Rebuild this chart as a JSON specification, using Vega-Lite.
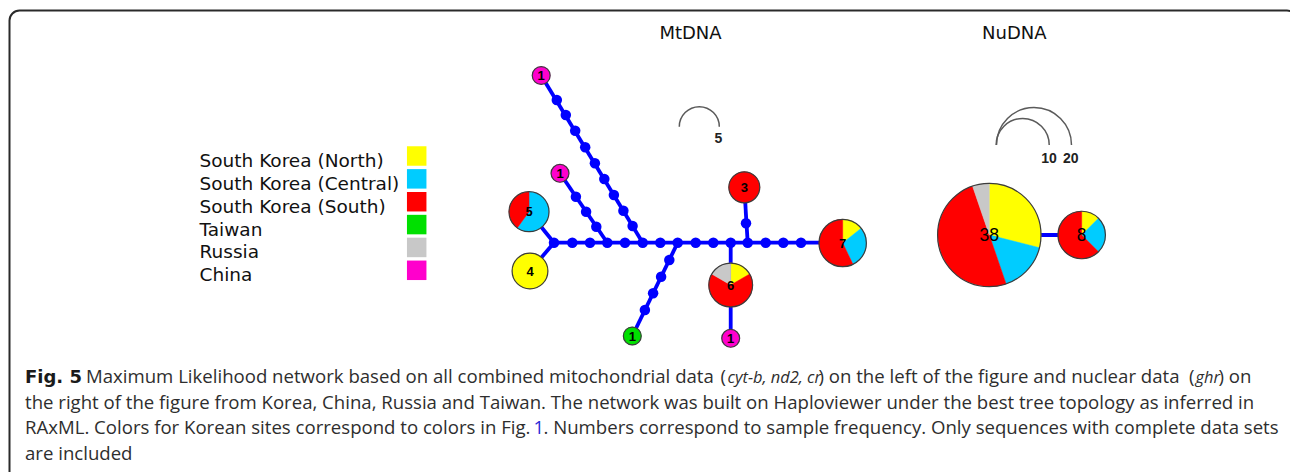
{
  "$schema": "https://vega.github.io/schema/vega-lite/v6.json",
  "width": 1290,
  "height": 472,
  "autosize": {"type": "none"},
  "padding": 0,
  "background": "white",
  "config": {"view": {"stroke": null}, "axis": {"disable": true}, "legend": {"disable": true}},
  "datasets": {
    "nodes": [
      {"net": "Mt", "node": "mC1", "x": 541.2, "y": 75.5, "n": 1},
      {"net": "Mt", "node": "mC2", "x": 560, "y": 173.3, "n": 1},
      {"net": "Mt", "node": "m5", "x": 529, "y": 211.7, "n": 5},
      {"net": "Mt", "node": "m4", "x": 530, "y": 271, "n": 4},
      {"net": "Mt", "node": "m3", "x": 744.3, "y": 187.3, "n": 3},
      {"net": "Mt", "node": "m7", "x": 842.7, "y": 243, "n": 7},
      {"net": "Mt", "node": "m6", "x": 730.7, "y": 285, "n": 6},
      {"net": "Mt", "node": "mC3", "x": 730.7, "y": 338.3, "n": 1},
      {"net": "Mt", "node": "mT", "x": 632.3, "y": 336, "n": 1},
      {"net": "Nu", "node": "n38", "x": 989.3, "y": 235, "n": 38},
      {"net": "Nu", "node": "n8", "x": 1081.7, "y": 235, "n": 8}
    ],
    "slices": [
      {"node": "mC1", "region": "China", "count": 1},
      {"node": "mC2", "region": "China", "count": 1},
      {"node": "m5", "region": "South Korea (Central)", "count": 3},
      {"node": "m5", "region": "South Korea (South)", "count": 2},
      {"node": "m4", "region": "South Korea (North)", "count": 4},
      {"node": "m3", "region": "South Korea (South)", "count": 3},
      {"node": "m7", "region": "South Korea (North)", "count": 1},
      {"node": "m7", "region": "South Korea (Central)", "count": 2},
      {"node": "m7", "region": "South Korea (South)", "count": 4},
      {"node": "m6", "region": "South Korea (North)", "count": 1},
      {"node": "m6", "region": "South Korea (South)", "count": 4},
      {"node": "m6", "region": "Russia", "count": 1},
      {"node": "mC3", "region": "China", "count": 1},
      {"node": "mT", "region": "Taiwan", "count": 1},
      {"node": "n38", "region": "South Korea (North)", "count": 11},
      {"node": "n38", "region": "South Korea (Central)", "count": 6},
      {"node": "n38", "region": "South Korea (South)", "count": 19},
      {"node": "n38", "region": "Russia", "count": 2},
      {"node": "n8", "region": "South Korea (North)", "count": 1},
      {"node": "n8", "region": "South Korea (Central)", "count": 2},
      {"node": "n8", "region": "South Korea (South)", "count": 5}
    ],
    "edges": [
      {"x": 554, "y": 242.7, "x2": 529, "y2": 211.7},
      {"x": 554, "y": 242.7, "x2": 530, "y2": 271},
      {"x": 554, "y": 242.7, "x2": 842.7, "y2": 242.7},
      {"x": 541.2, "y": 75.5, "x2": 642.7, "y2": 242.7},
      {"x": 560, "y": 173.3, "x2": 607.3, "y2": 242.7},
      {"x": 677.7, "y": 242.7, "x2": 632.3, "y2": 336},
      {"x": 730.7, "y": 242.7, "x2": 730.7, "y2": 338.3},
      {"x": 747.7, "y": 242.7, "x2": 744.3, "y2": 187.3},
      {"x": 989.3, "y": 235, "x2": 1081.7, "y2": 235}
    ],
    "dots": [
      {"x": 554, "y": 242.7}, {"x": 572.3, "y": 242.7}, {"x": 590, "y": 242.7}, {"x": 607.3, "y": 242.7},
      {"x": 625, "y": 242.7}, {"x": 642.7, "y": 242.7}, {"x": 660.3, "y": 242.7}, {"x": 677.7, "y": 242.7},
      {"x": 695.7, "y": 242.7}, {"x": 713.3, "y": 242.7}, {"x": 730.7, "y": 242.7}, {"x": 747.7, "y": 242.7},
      {"x": 765.7, "y": 242.7}, {"x": 783.3, "y": 242.7}, {"x": 801, "y": 242.7},
      {"x": 556.8, "y": 100}, {"x": 565.8, "y": 115}, {"x": 575.2, "y": 130.7}, {"x": 585.2, "y": 147.3},
      {"x": 594.9, "y": 163.3}, {"x": 604.3, "y": 179}, {"x": 613.9, "y": 195}, {"x": 623.4, "y": 210.7},
      {"x": 632.6, "y": 226},
      {"x": 575.9, "y": 196.7}, {"x": 586.1, "y": 211.7}, {"x": 596.3, "y": 226.7},
      {"x": 669.3, "y": 260}, {"x": 661.1, "y": 276.7}, {"x": 653.1, "y": 293.3}, {"x": 644.9, "y": 310},
      {"x": 746, "y": 223.3}
    ],
    "scaleref": [
      {"net": "Mt", "n": 5, "x": 699.3, "y": 126.7},
      {"net": "Nu", "n": 10, "x": 1022.7, "y": 145},
      {"net": "Nu", "n": 20, "x": 1034, "y": 145}
    ],
    "scalelab": [
      {"t": "5", "x": 718.5, "y": 139},
      {"t": "10", "x": 1049, "y": 159},
      {"t": "20", "x": 1070.7, "y": 159}
    ],
    "titles": [
      {"t": "MtDNA", "x": 690.5, "y": 34},
      {"t": "NuDNA", "x": 1014.3, "y": 34}
    ],
    "legend": [
      {"region": "South Korea (North)"},
      {"region": "South Korea (Central)"},
      {"region": "South Korea (South)"},
      {"region": "Taiwan"},
      {"region": "Russia"},
      {"region": "China"}
    ],
    "caption": [
      {"t": "Fig. 5", "x": 25, "y": 382.7, "kind": "bold"},
      {"t": "Maximum Likelihood network based on all combined mitochondrial data", "x": 86, "y": 382.7, "kind": "plain"},
      {"t": "(", "x": 720.5, "y": 382.7, "kind": "plain"},
      {"t": "cyt-b, nd2, cr", "x": 727.5, "y": 382.7, "kind": "italic"},
      {"t": ") on the left of the figure and nuclear data", "x": 818.5, "y": 382.7, "kind": "plain"},
      {"t": "(", "x": 1189, "y": 382.7, "kind": "plain"},
      {"t": "ghr", "x": 1195.5, "y": 382.7, "kind": "italic"},
      {"t": ") on", "x": 1218.5, "y": 382.7, "kind": "plain"},
      {"t": "the right of the figure from Korea, China, Russia and Taiwan. The network was built on Haploviewer under the best tree topology as inferred in", "x": 25, "y": 408.5, "kind": "plain"},
      {"t": "RAxML. Colors for Korean sites correspond to colors in Fig.", "x": 25, "y": 434.3, "kind": "plain"},
      {"t": "1", "x": 533.5, "y": 434.3, "kind": "link"},
      {"t": ". Numbers correspond to sample frequency. Only sequences with complete data sets", "x": 543.5, "y": 434.3, "kind": "plain"},
      {"t": "are included", "x": 25, "y": 460, "kind": "plain"}
    ]
  },
  "resolve": {"scale": {"radius": "independent", "size": "independent", "y": "independent"}},
  "layer": [
    {
      "data": {"values": [{"frame": "figure"}]},
      "mark": {"type": "rect", "filled": false, "stroke": "#2a2a2a", "strokeWidth": 2, "cornerRadius": 10},
      "encoding": {
        "x": {"datum": 9.5, "type": "quantitative", "scale": {"domain": [0, 1290], "nice": false, "zero": false}},
        "x2": {"datum": 1297},
        "y": {"datum": 10.5, "type": "quantitative", "scale": {"domain": [0, 472], "reverse": true, "nice": false, "zero": false}},
        "y2": {"datum": 560}
      }
    },
    {
      "data": {"name": "edges"},
      "mark": {"type": "rule", "color": "#0000ff", "strokeWidth": 3.8},
      "encoding": {
        "x": {"field": "x", "type": "quantitative", "scale": {"domain": [0, 1290], "nice": false, "zero": false}},
        "x2": {"field": "x2"},
        "y": {"field": "y", "type": "quantitative", "scale": {"domain": [0, 472], "reverse": true, "nice": false, "zero": false}},
        "y2": {"field": "y2"}
      }
    },
    {
      "data": {"name": "dots"},
      "mark": {"type": "point", "shape": "circle", "filled": true, "color": "#0000ff", "opacity": 1, "size": 110},
      "encoding": {
        "x": {"field": "x", "type": "quantitative", "scale": {"domain": [0, 1290], "nice": false, "zero": false}},
        "y": {"field": "y", "type": "quantitative", "scale": {"domain": [0, 472], "reverse": true, "nice": false, "zero": false}}
      }
    },
    {
      "data": {"name": "slices"},
      "transform": [
        {"lookup": "node", "from": {"data": {"name": "nodes"}, "key": "node", "fields": ["x", "y", "n", "net"]}},
        {"filter": "datum.net === 'Mt'"},
        {"joinaggregate": [{"op": "sum", "field": "count", "as": "tot"}], "groupby": ["node"]},
        {"window": [{"op": "sum", "field": "count", "as": "cum"}], "groupby": ["node"], "frame": [null, 0]},
        {"calculate": "(datum.cum - datum.count) / datum.tot", "as": "f0"},
        {"calculate": "datum.cum / datum.tot", "as": "f1"}
      ],
      "mark": {"type": "arc", "strokeWidth": 0.5},
      "encoding": {
        "x": {"field": "x", "type": "quantitative", "scale": {"domain": [0, 1290], "nice": false, "zero": false}},
        "y": {"field": "y", "type": "quantitative", "scale": {"domain": [0, 472], "reverse": true, "nice": false, "zero": false}},
        "theta": {"field": "f0", "type": "quantitative", "stack": null, "scale": {"domain": [0, 1], "range": [0, 6.283185307], "zero": false, "nice": false}},
        "theta2": {"field": "f1"},
        "radius": {"field": "n", "type": "quantitative", "scale": {"type": "sqrt", "domain": [0, 5], "range": [0, 20], "zero": true}},
        "color": {"field": "region", "type": "nominal", "scale": {"domain": ["South Korea (North)", "South Korea (Central)", "South Korea (South)", "Taiwan", "Russia", "China"], "range": ["#ffff00", "#00ccff", "#ff0000", "#00e000", "#c8c8c8", "#ff00cc"]}},
        "stroke": {"field": "region", "type": "nominal", "scale": {"domain": ["South Korea (North)", "South Korea (Central)", "South Korea (South)", "Taiwan", "Russia", "China"], "range": ["#ffff00", "#00ccff", "#ff0000", "#00e000", "#c8c8c8", "#ff00cc"]}}
      }
    },
    {
      "data": {"name": "slices"},
      "transform": [
        {"lookup": "node", "from": {"data": {"name": "nodes"}, "key": "node", "fields": ["x", "y", "n", "net"]}},
        {"filter": "datum.net === 'Nu'"},
        {"joinaggregate": [{"op": "sum", "field": "count", "as": "tot"}], "groupby": ["node"]},
        {"window": [{"op": "sum", "field": "count", "as": "cum"}], "groupby": ["node"], "frame": [null, 0]},
        {"calculate": "(datum.cum - datum.count) / datum.tot", "as": "f0"},
        {"calculate": "datum.cum / datum.tot", "as": "f1"}
      ],
      "mark": {"type": "arc", "strokeWidth": 0.5},
      "encoding": {
        "x": {"field": "x", "type": "quantitative", "scale": {"domain": [0, 1290], "nice": false, "zero": false}},
        "y": {"field": "y", "type": "quantitative", "scale": {"domain": [0, 472], "reverse": true, "nice": false, "zero": false}},
        "theta": {"field": "f0", "type": "quantitative", "stack": null, "scale": {"domain": [0, 1], "range": [0, 6.283185307], "zero": false, "nice": false}},
        "theta2": {"field": "f1"},
        "radius": {"field": "n", "type": "quantitative", "scale": {"type": "sqrt", "domain": [0, 20], "range": [0, 37.5], "zero": true}},
        "color": {"field": "region", "type": "nominal", "scale": {"domain": ["South Korea (North)", "South Korea (Central)", "South Korea (South)", "Taiwan", "Russia", "China"], "range": ["#ffff00", "#00ccff", "#ff0000", "#00e000", "#c8c8c8", "#ff00cc"]}},
        "stroke": {"field": "region", "type": "nominal", "scale": {"domain": ["South Korea (North)", "South Korea (Central)", "South Korea (South)", "Taiwan", "Russia", "China"], "range": ["#ffff00", "#00ccff", "#ff0000", "#00e000", "#c8c8c8", "#ff00cc"]}}
      }
    },
    {
      "data": {"name": "nodes"},
      "transform": [{"filter": "datum.net === 'Mt'"}],
      "mark": {"type": "point", "shape": "circle", "filled": false, "color": "#3c3c3c", "strokeWidth": 1.2, "opacity": 1},
      "encoding": {
        "x": {"field": "x", "type": "quantitative", "scale": {"domain": [0, 1290], "nice": false, "zero": false}},
        "y": {"field": "y", "type": "quantitative", "scale": {"domain": [0, 472], "reverse": true, "nice": false, "zero": false}},
        "size": {"field": "n", "type": "quantitative", "scale": {"type": "linear", "domain": [0, 5], "range": [0, 1600], "zero": true}}
      }
    },
    {
      "data": {"name": "nodes"},
      "transform": [{"filter": "datum.net === 'Nu'"}],
      "mark": {"type": "point", "shape": "circle", "filled": false, "color": "#3c3c3c", "strokeWidth": 1.2, "opacity": 1},
      "encoding": {
        "x": {"field": "x", "type": "quantitative", "scale": {"domain": [0, 1290], "nice": false, "zero": false}},
        "y": {"field": "y", "type": "quantitative", "scale": {"domain": [0, 472], "reverse": true, "nice": false, "zero": false}},
        "size": {"field": "n", "type": "quantitative", "scale": {"type": "linear", "domain": [0, 20], "range": [0, 5625], "zero": true}}
      }
    },
    {
      "data": {"name": "nodes"},
      "transform": [{"filter": "datum.net === 'Mt'"}],
      "mark": {"type": "text", "font": "Liberation Sans", "fontWeight": "bold", "fontSize": 13, "color": "#000000", "align": "center", "baseline": "middle", "dy": 0.5},
      "encoding": {
        "x": {"field": "x", "type": "quantitative", "scale": {"domain": [0, 1290], "nice": false, "zero": false}},
        "y": {"field": "y", "type": "quantitative", "scale": {"domain": [0, 472], "reverse": true, "nice": false, "zero": false}},
        "text": {"field": "n", "type": "nominal"}
      }
    },
    {
      "data": {"name": "nodes"},
      "transform": [{"filter": "datum.net === 'Nu'"}],
      "mark": {"type": "text", "font": "Liberation Sans", "fontSize": 17.5, "color": "#000000", "align": "center", "baseline": "middle", "dy": 0.5},
      "encoding": {
        "x": {"field": "x", "type": "quantitative", "scale": {"domain": [0, 1290], "nice": false, "zero": false}},
        "y": {"field": "y", "type": "quantitative", "scale": {"domain": [0, 472], "reverse": true, "nice": false, "zero": false}},
        "text": {"field": "n", "type": "nominal"}
      }
    },
    {
      "data": {"name": "scaleref"},
      "transform": [{"filter": "datum.net === 'Mt'"}],
      "mark": {"type": "arc", "theta": -1.5707963, "theta2": 1.5707963, "filled": false, "color": "#5a5a5a", "strokeWidth": 1.5},
      "encoding": {
        "x": {"field": "x", "type": "quantitative", "scale": {"domain": [0, 1290], "nice": false, "zero": false}},
        "y": {"field": "y", "type": "quantitative", "scale": {"domain": [0, 472], "reverse": true, "nice": false, "zero": false}},
        "radius": {"field": "n", "type": "quantitative", "scale": {"type": "sqrt", "domain": [0, 5], "range": [0, 20], "zero": true}},
        "radius2": {"field": "n"}
      }
    },
    {
      "data": {"name": "scaleref"},
      "transform": [{"filter": "datum.net === 'Nu'"}],
      "mark": {"type": "arc", "theta": -1.5707963, "theta2": 1.5707963, "filled": false, "color": "#5a5a5a", "strokeWidth": 1.5},
      "encoding": {
        "x": {"field": "x", "type": "quantitative", "scale": {"domain": [0, 1290], "nice": false, "zero": false}},
        "y": {"field": "y", "type": "quantitative", "scale": {"domain": [0, 472], "reverse": true, "nice": false, "zero": false}},
        "radius": {"field": "n", "type": "quantitative", "scale": {"type": "sqrt", "domain": [0, 20], "range": [0, 37.5], "zero": true}},
        "radius2": {"field": "n"}
      }
    },
    {
      "data": {"name": "scalelab"},
      "mark": {"type": "text", "font": "Liberation Sans", "fontWeight": "bold", "fontSize": 14, "color": "#222222", "align": "center", "baseline": "middle"},
      "encoding": {
        "x": {"field": "x", "type": "quantitative", "scale": {"domain": [0, 1290], "nice": false, "zero": false}},
        "y": {"field": "y", "type": "quantitative", "scale": {"domain": [0, 472], "reverse": true, "nice": false, "zero": false}},
        "text": {"field": "t", "type": "nominal"}
      }
    },
    {
      "data": {"name": "titles"},
      "mark": {"type": "text", "font": "DejaVu Sans", "fontSize": 18, "color": "#111111", "align": "center", "baseline": "middle"},
      "encoding": {
        "x": {"field": "x", "type": "quantitative", "scale": {"domain": [0, 1290], "nice": false, "zero": false}},
        "y": {"field": "y", "type": "quantitative", "scale": {"domain": [0, 472], "reverse": true, "nice": false, "zero": false}},
        "text": {"field": "t", "type": "nominal"}
      }
    },
    {
      "data": {"name": "legend"},
      "mark": {"type": "point", "shape": "square", "filled": true, "opacity": 1, "size": 380},
      "encoding": {
        "x": {"datum": 416.7, "type": "quantitative", "scale": {"domain": [0, 1290], "nice": false, "zero": false}},
        "y": {"field": "region", "type": "nominal", "sort": null, "scale": {"type": "point", "domain": ["South Korea (North)", "South Korea (Central)", "South Korea (South)", "Taiwan", "Russia", "China"], "range": [156, 270.3], "padding": 0}},
        "color": {"field": "region", "type": "nominal", "scale": {"domain": ["South Korea (North)", "South Korea (Central)", "South Korea (South)", "Taiwan", "Russia", "China"], "range": ["#ffff00", "#00ccff", "#ff0000", "#00e000", "#c8c8c8", "#ff00cc"]}}
      }
    },
    {
      "data": {"name": "legend"},
      "mark": {"type": "text", "font": "DejaVu Sans", "fontSize": 18.5, "color": "#111111", "align": "left", "baseline": "alphabetic", "dy": 11},
      "encoding": {
        "x": {"datum": 199.5, "type": "quantitative", "scale": {"domain": [0, 1290], "nice": false, "zero": false}},
        "y": {"field": "region", "type": "nominal", "sort": null, "scale": {"type": "point", "domain": ["South Korea (North)", "South Korea (Central)", "South Korea (South)", "Taiwan", "Russia", "China"], "range": [156, 270.3], "padding": 0}},
        "text": {"field": "region", "type": "nominal"}
      }
    },
    {
      "data": {"name": "caption"},
      "transform": [{"filter": "datum.kind === 'plain'"}],
      "mark": {"type": "text", "font": "Open Sans", "fontSize": 18.6, "color": "#2e2e2e", "align": "left", "baseline": "alphabetic"},
      "encoding": {
        "x": {"field": "x", "type": "quantitative", "scale": {"domain": [0, 1290], "nice": false, "zero": false}},
        "y": {"field": "y", "type": "quantitative", "scale": {"domain": [0, 472], "reverse": true, "nice": false, "zero": false}},
        "text": {"field": "t", "type": "nominal"}
      }
    },
    {
      "data": {"name": "caption"},
      "transform": [{"filter": "datum.kind === 'bold'"}],
      "mark": {"type": "text", "font": "DejaVu Sans", "fontSize": 18, "fontWeight": "bold", "color": "#1a1a1a", "align": "left", "baseline": "alphabetic"},
      "encoding": {
        "x": {"field": "x", "type": "quantitative", "scale": {"domain": [0, 1290], "nice": false, "zero": false}},
        "y": {"field": "y", "type": "quantitative", "scale": {"domain": [0, 472], "reverse": true, "nice": false, "zero": false}},
        "text": {"field": "t", "type": "nominal"}
      }
    },
    {
      "data": {"name": "caption"},
      "transform": [{"filter": "datum.kind === 'italic'"}],
      "mark": {"type": "text", "font": "Open Sans", "fontSize": 16.4, "fontStyle": "italic", "color": "#2e2e2e", "align": "left", "baseline": "alphabetic"},
      "encoding": {
        "x": {"field": "x", "type": "quantitative", "scale": {"domain": [0, 1290], "nice": false, "zero": false}},
        "y": {"field": "y", "type": "quantitative", "scale": {"domain": [0, 472], "reverse": true, "nice": false, "zero": false}},
        "text": {"field": "t", "type": "nominal"}
      }
    },
    {
      "data": {"name": "caption"},
      "transform": [{"filter": "datum.kind === 'link'"}],
      "mark": {"type": "text", "font": "Open Sans", "fontSize": 18.6, "color": "#2a2ad6", "align": "left", "baseline": "alphabetic"},
      "encoding": {
        "x": {"field": "x", "type": "quantitative", "scale": {"domain": [0, 1290], "nice": false, "zero": false}},
        "y": {"field": "y", "type": "quantitative", "scale": {"domain": [0, 472], "reverse": true, "nice": false, "zero": false}},
        "text": {"field": "t", "type": "nominal"}
      }
    }
  ]
}
